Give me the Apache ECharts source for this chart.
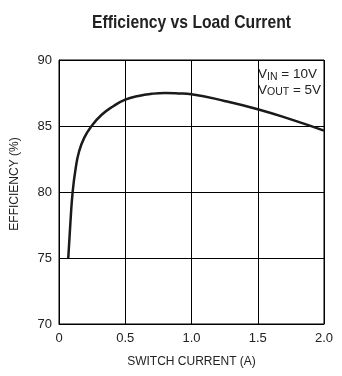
<!DOCTYPE html>
<html><head><meta charset="utf-8">
<script src="https://cdn.jsdelivr.net/npm/echarts@6/dist/echarts.min.js"></script>
<style>html,body{margin:0;padding:0;background:#fff}#c{width:342px;height:376px}</style>
</head><body><div id="c"></div>
<script>
const titleText = 'Efficiency vs Load Current';
const xName = 'SWITCH CURRENT (A)';
const yName = 'EFFICIENCY (%)';
const xTicks = [0, 0.5, 1.0, 1.5, 2.0];
const xTickLabels = ['0', '0.5', '1.0', '1.5', '2.0'];
const current = [0.07, 0.085, 0.103, 0.126, 0.151, 0.19, 0.242, 0.322, 0.41, 0.5, 0.6, 0.7, 0.8, 0.9, 1.0, 1.25, 1.5, 1.75, 2.0];
const efficiency = [75, 77.5, 80.0, 81.8, 83.05, 84.1, 84.95, 85.85, 86.5, 87.0, 87.28, 87.44, 87.5, 87.47, 87.4, 86.9, 86.27, 85.5, 84.65];

const chart = echarts.init(document.getElementById('c'));
const txt = '#222';
const titleFont = 'bold 19px "Liberation Sans"';
const ctx = document.createElement('canvas').getContext('2d');
ctx.font = titleFont;
const titleScale = 199 / ctx.measureText(titleText).width;

chart.setOption({
  animation: false,
  backgroundColor: '#fff',
  grid: {left: 59, top: 60, width: 265, height: 264, show: true, borderColor: '#000', borderWidth: 1},
  xAxis: {
    type: 'value', min: 0, max: 2, interval: 0.5,
    name: xName, nameLocation: 'middle', nameGap: 32,
    nameTextStyle: {fontFamily: 'Liberation Sans', fontSize: 12, color: txt},
    axisLine: {lineStyle: {color: '#000', width: 1}},
    axisTick: {show: false},
    axisLabel: {margin: 8, fontFamily: 'Liberation Sans', fontSize: 13, color: txt,
      formatter: v => { const i = xTicks.findIndex(t => Math.abs(t - v) < 1e-6); return i >= 0 ? xTickLabels[i] : ''; }},
    splitLine: {show: true, lineStyle: {color: '#000', width: 1}}
  },
  yAxis: {
    type: 'value', min: 70, max: 90, interval: 5,
    name: yName, nameLocation: 'middle', nameGap: 38,
    nameTextStyle: {fontFamily: 'Liberation Sans', fontSize: 12, color: txt, padding: [0, 0, 0, 16]},
    axisLine: {show: true, lineStyle: {color: '#000', width: 1}},
    axisTick: {show: false},
    axisLabel: {margin: 7, fontFamily: 'Liberation Sans', fontSize: 13, color: txt},
    splitLine: {show: true, lineStyle: {color: '#000', width: 1}}
  },
  graphic: [{
    type: 'text', x: 191.5, y: 22.5, scaleX: titleScale,
    style: {text: titleText, font: titleFont, fill: txt, textAlign: 'center', textVerticalAlign: 'middle'}
  }, {
    type: 'text', left: 258, top: 67.5,
    style: {
      text: '{v|V}{s|IN}{v| = 10V}\n{v|V}{s|OUT}{v| = 5V}',
      rich: {
        v: {fontFamily: 'Liberation Sans', fontSize: 13.5, fill: txt, lineHeight: 15.6},
        s: {fontFamily: 'Liberation Sans', fontSize: 10.5, fill: txt, lineHeight: 15.6, verticalAlign: 'bottom', padding: [4, 0, 0, 0]}
      }
    }
  }],
  series: [{
    type: 'line', data: current.map((x, i) => [x, efficiency[i]]),
    smooth: true, showSymbol: false, lineStyle: {color: '#1a1a1a', width: 2.5}
  }]
});
</script></body></html>
